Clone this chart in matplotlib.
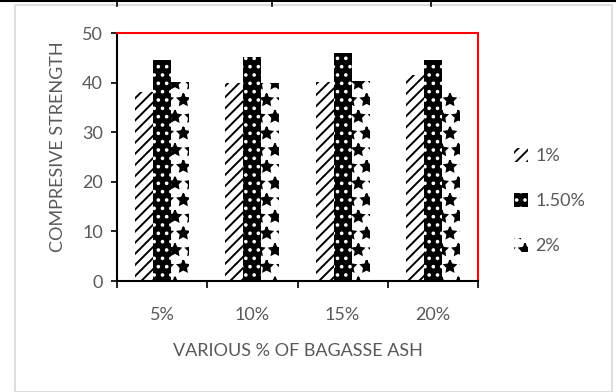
import numpy as np
import matplotlib.pyplot as plt
from matplotlib.patches import Rectangle

categories = ["5%", "10%", "15%", "20%"]
series_names = ["1%", "1.50%", "2%"]
s1 = [38.2, 39.9, 40.2, 41.5]
s15 = [44.6, 45.1, 45.9, 44.6]
s2 = [40.2, 40.0, 40.3, 38.4]

plt.rcParams['font.family'] = ['Lato', 'DejaVu Sans']
plt.rcParams['hatch.linewidth'] = 1.4
grey = "#595959"

fig = plt.figure(figsize=(6.16, 3.92), dpi=100)
ax = fig.add_axes([117 / 616, 111 / 392, 361 / 616, 248 / 392])

x = np.arange(len(categories))
w = 0.2
ax.bar(x - w, s1, w, facecolor="white", edgecolor="black", hatch="///", linewidth=0, label=series_names[0])
ax.bar(x, s15, w, facecolor="black", edgecolor="white", hatch="..", linewidth=0, label=series_names[1])
ax.bar(x + w, s2, w, facecolor="white", edgecolor="black", hatch="*", linewidth=0, label=series_names[2])

ax.set_xlim(-0.5, len(categories) - 0.5)
ax.set_ylim(0, 50)
ax.set_yticks(range(0, 51, 10))
ax.set_xticks(x)
ax.set_xticklabels(categories)
ax.set_xticks(np.arange(-0.5, len(categories), 1), minor=True)
ax.tick_params(axis="x", which="major", length=0, pad=19, labelsize=13, labelcolor=grey)
ax.tick_params(axis="x", which="minor", length=5, width=1.2, direction="out")
ax.tick_params(axis="y", length=4, width=1.2, pad=6, labelsize=13, labelcolor=grey)

for s in ["top", "right"]:
    ax.spines[s].set_color("red")
    ax.spines[s].set_linewidth(1.5)
for s in ["left", "bottom"]:
    ax.spines[s].set_color("black")
    ax.spines[s].set_linewidth(1.5)

ax.set_ylabel("COMPRESIVE STRENGTH", fontsize=13, color=grey)
ax.yaxis.set_label_coords(-0.14, 0.54)
ax.set_xlabel("VARIOUS % OF BAGASSE ASH", fontsize=13, color=grey, labelpad=14)

leg = ax.legend(loc="center left", bbox_to_anchor=(514 / 616, 0.487), bbox_transform=fig.transFigure,
                frameon=False, fontsize=13, handlelength=0.8, handleheight=0.8,
                handletextpad=0.4, labelspacing=1.6, borderaxespad=0, borderpad=0)
for t in leg.get_texts():
    t.set_color(grey)

# outer frame and table line
fig.patches.append(Rectangle((15 / 616, 0), 597 / 616, 387 / 392, transform=fig.transFigure,
                             fill=False, edgecolor="#d9d9d9", linewidth=1.2))
fig.add_artist(plt.Line2D([0, 1], [0.997, 0.997], color="black", linewidth=1.5))
for px in [117, 272, 431]:
    fig.add_artist(plt.Line2D([px / 616, px / 616], [0.985, 1], color="black", linewidth=1.2))

fig.savefig("out.png", dpi=100)
